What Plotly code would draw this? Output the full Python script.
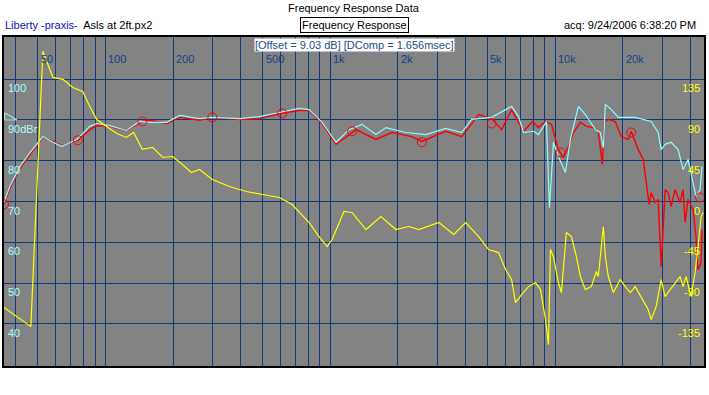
import math
import plotly.graph_objects as go

# ---------------- data ----------------
cyan_f = [35.4, 37.6, 41.7, 46.2, 52.7, 58.4, 64.0, 74.6, 85.2, 91.5, 104.5, 124, 142, 157, 187, 214,
          262, 299, 394, 483, 593, 727, 805, 920, 1061, 1212, 1384, 1597, 1768, 2169, 2660, 3263,
          3841, 4255, 5219, 6401, 6877, 7236, 8014, 8433, 9150, 9434, 9828, 10340, 11110, 11690,
          12690, 13630, 15090, 15880, 16380, 16720, 17770, 19090, 22710, 26740, 28720, 29610,
          30850, 32800, 35230, 37070, 39010, 40220, 42330, 44100, 45010]
cyan_db = [69.8, 73.7, 78.6, 82.0, 85.9, 84.5, 83.5, 85.2, 88.4, 89.1, 88.6, 87.4, 89.6, 89.4, 89.4, 91.1,
           90.3, 90.6, 90.3, 90.8, 91.8, 92.8, 92.5, 89.4, 84.5, 87.6, 88.9, 86.4, 88.1, 86.9, 86.4, 87.9,
           86.9, 90.1, 90.6, 93.3, 90.8, 86.9, 87.2, 86.4, 89.6, 68.5, 84.5, 81.0, 77.1, 85.2,
           93.3, 91.3, 87.6, 86.9, 83.2, 93.8, 92.5, 90.6, 90.6, 89.6, 86.9, 82.7,
           84.0, 84.5, 82.7, 77.8, 80.3, 77.1, 71.2, 72.9, 78.6]

red_f = [35.4, 37.6, 41.7, 46.2, 52.7, 58.4, 64.0, 75.4, 85.2, 91.5, 104.5, 124, 146, 157, 187, 214,
         262, 299, 394, 483, 611, 727, 805, 920, 1061, 1302, 1597, 1880, 2306, 2554, 3263, 3841,
         4570, 5219, 5780, 6401, 6877, 7236, 7932, 8433, 9057, 9630, 10340, 10880, 11460, 12060,
         12950, 13770, 14780, 15560, 16210, 16550, 17240, 18510, 19680, 21140, 21800, 23420,
         24640, 25410, 26190, 26740, 27850, 28720, 29610, 30850, 31800, 32800, 34160, 35950,
         37070, 37840, 39010, 41060, 42330, 43210, 44560, 45010]
red_db = [69.3, 73.2, 78.1, 81.5, 85.7, 84.7, 83.7, 85.0, 87.6, 88.6, 88.4, 87.4, 89.6, 89.9, 89.1, 90.6,
          89.9, 90.6, 90.1, 90.3, 91.6, 92.3, 92.3, 89.1, 84.0, 87.6, 85.2, 86.9, 85.9, 84.7, 87.2, 85.9,
          91.3, 90.3, 87.6, 92.5, 89.4, 87.2, 89.6, 88.1, 89.6, 88.9, 82.7, 80.8, 83.5, 86.9,
          89.4, 88.4, 88.1, 87.2, 79.1, 89.4, 90.1, 89.6, 85.9, 85.2, 87.2, 82.7,
          80.3, 74.7, 69.3, 72.2, 69.75, 70.5, 54.1, 72.9, 72.2, 68.8, 72.9, 69.75,
          72.9, 64.9, 70.5, 68.0, 61.4, 53.3, 55.0, 63.1]

marker_f = [35.4, 75.4, 146, 299, 611, 1250, 2554, 5219, 10560, 21800, 44100]
marker_db = [69.3, 85.0, 89.6, 90.6, 91.6, 87.2, 84.5, 89.1, 82.0, 86.9, 71.0]

phase_f = [35.4, 46.6, 52.7, 58.4, 64.7, 71.6, 79.3, 85.2, 91.5, 101.3, 112.2, 124, 133.5, 146, 162,
           180, 199, 220, 241, 262, 299, 356, 423, 499, 593, 677, 805, 892, 968, 1019, 1151, 1250,
           1441, 1680, 1958, 2236, 2477, 3038, 3540, 4002, 4570, 5061, 5606, 6021, 6401, 6668,
           7088, 7612, 8176, 8605, 9057, 9339, 9532, 9828, 10340, 10660, 11220, 11810, 12430,
           12950, 13630, 14490, 15250, 15560, 16380, 16720, 17240, 18140, 19480, 20500, 21580,
           22710, 24140, 25930, 26740, 28130, 29610, 30850, 32460, 34160, 35950, 37070, 38230,
           40220, 41900, 43210, 44560, 45480]
phase_deg = [-116.9, -137.9, 165.5, 136.8, 134.6, 125.7, 121.3, 104.8, 90.4, 82.7, 75.0, 70.6, 76.1, 57.4, 59.6,
             48.5, 49.6, 40.8, 32.0, 35.3, 24.3, 16.5, 11.0, 7.7, 4.4, -3.3, -23.2, -38.6, -49.6, -41.9, -11.0, -12.1,
             -30.9, -16.5, -30.9, -27.6, -30.9, -23.2, -36.4, -23.2, -38.6, -52.9, -56.3, -75.0, -86.0, -111.4,
             -102.6, -93.8, -89.3, -97.1, -130.2, -157.7, -52.9, -60.7, -89.3, -100.4, -34.2, -38.6, -60.7,
             -82.7, -97.1, -93.8, -77.2, -82.7, -27.6, -60.7, -82.7, -100.4, -86.0, -93.8, -100.4,
             -93.8, -104.8, -119.1, -130.2, -115.8, -86.0, -104.8, -97.1, -89.3, -82.7, -93.8, -82.7,
             -104.8, -78.3, -49.6, -16.5, -12.1]

freq_grid = [40, 50, 60, 70, 80, 90, 100, 200, 300, 400, 500, 600, 700, 800, 900,
             1000, 2000, 3000, 4000, 5000, 6000, 7000, 8000, 9000, 10000, 20000, 30000, 40000]
freq_labels = {50: "50", 100: "100", 200: "200", 500: "500", 1000: "1k", 2000: "2k",
               5000: "5k", 10000: "10k", 20000: "20k"}
db_ticks = [100, 90, 80, 70, 60, 50, 40]
db_labels = ["100", "90dBr", "80", "70", "60", "50", "40"]
ph_ticks = [135, 90, 45, 0, -45, -90, -135]
ph_labels = ["135", "90", "45", "0", "-45", "-90", "-135"]

# ---------------- figure ----------------
FONT = "Liberation Sans, Arial, sans-serif"
GRID = "#0f3a7d"
fig = go.Figure()

fig.add_trace(go.Scatter(x=phase_f, y=phase_deg, yaxis="y2", mode="lines",
                         line=dict(color="#ffff00", width=1.2), hoverinfo="skip"))
fig.add_trace(go.Scatter(x=red_f, y=red_db, mode="lines",
                         line=dict(color="#ff0000", width=1.4), hoverinfo="skip"))
fig.add_trace(go.Scatter(x=cyan_f, y=cyan_db, mode="lines",
                         line=dict(color="#88ffff", width=1.2), hoverinfo="skip"))
fig.add_trace(go.Scatter(x=marker_f, y=marker_db, mode="markers",
                         marker=dict(symbol="circle-open", size=9, color="#ff0000",
                                     line=dict(width=1)), hoverinfo="skip"))

ann = []
for f, t in freq_labels.items():
    ann.append(dict(x=math.log10(f), xref="x", y=0.933, yref="paper", text=t, showarrow=False,
                    xanchor="left", yanchor="middle", xshift=1,
                    font=dict(family=FONT, size=11, color="#163f86")))
for v, t in zip(db_ticks, db_labels):
    ann.append(dict(x=0.003, xref="paper", y=v, yref="y", text=t, showarrow=False,
                    xanchor="left", yanchor="top", yshift=-1,
                    font=dict(family=FONT, size=11, color="#a6ffff")))
for v, t in zip(ph_ticks, ph_labels):
    ann.append(dict(x=0.997, xref="paper", y=v, yref="y2", text=t, showarrow=False,
                    xanchor="right", yanchor="top", yshift=-1,
                    font=dict(family=FONT, size=11, color="#ffff00")))

ann.append(dict(x=0.5, xref="paper", y=1.088, yref="paper", text="Frequency Response Data",
                showarrow=False, xanchor="center", yanchor="middle",
                font=dict(family=FONT, size=11, color="black")))
ann.append(dict(x=-0.0014, xref="paper", y=1.0365, yref="paper",
                text="<span style='color:#1010b0'>Liberty -praxis-</span>  Asls at 2ft.px2",
                showarrow=False, xanchor="left", yanchor="middle",
                font=dict(family=FONT, size=11, color="black")))
ann.append(dict(x=0.5, xref="paper", y=1.0365, yref="paper", text="Frequency Response",
                showarrow=False, xanchor="center", yanchor="middle", bgcolor="white",
                bordercolor="black", borderwidth=1, borderpad=1,
                font=dict(family=FONT, size=11, color="black")))
ann.append(dict(x=0.9915, xref="paper", y=1.0365, yref="paper", text="acq: 9/24/2006 6:38:20 PM",
                showarrow=False, xanchor="right", yanchor="middle",
                font=dict(family=FONT, size=11, color="black")))
ann.append(dict(x=0.5, xref="paper", y=0.9757, yref="paper",
                text="[Offset = 9.03 dB] [DComp = 1.656msec]",
                showarrow=False, xanchor="center", yanchor="middle", bgcolor="white", borderpad=0,
                font=dict(family=FONT, size=11, color="#1d4e8a")))

shapes = [dict(type="path", xref="paper", yref="y",
               path="M 0.001,91.7 L 0.0185,90 L 0.001,90 Z",
               line=dict(color="#a6ffff", width=1))]

fig.update_layout(
    width=709, height=395,
    margin=dict(l=4, r=3, t=37, b=29),
    paper_bgcolor="white", plot_bgcolor="#838383",
    showlegend=False,
    annotations=ann, shapes=shapes,
    xaxis=dict(type="log", range=[math.log10(35.4), math.log10(45920)],
               tickvals=freq_grid, showticklabels=False, ticks="",
               showgrid=True, gridcolor=GRID, gridwidth=1, zeroline=False,
               showline=True, mirror=True, linecolor="black", linewidth=2),
    yaxis=dict(range=[29.71, 110.29], tickvals=db_ticks, showticklabels=False, ticks="",
               showgrid=True, gridcolor=GRID, gridwidth=1, zeroline=False,
               showline=True, mirror=True, linecolor="black", linewidth=2),
    yaxis2=dict(range=[-181.3, 181.3], overlaying="y", side="right", showgrid=False,
                showticklabels=False, ticks="", zeroline=False),
)

fig.write_html("out.html", config={"displayModeBar": False},
               post_script="document.body.style.margin='0';document.body.style.overflow='hidden';")
